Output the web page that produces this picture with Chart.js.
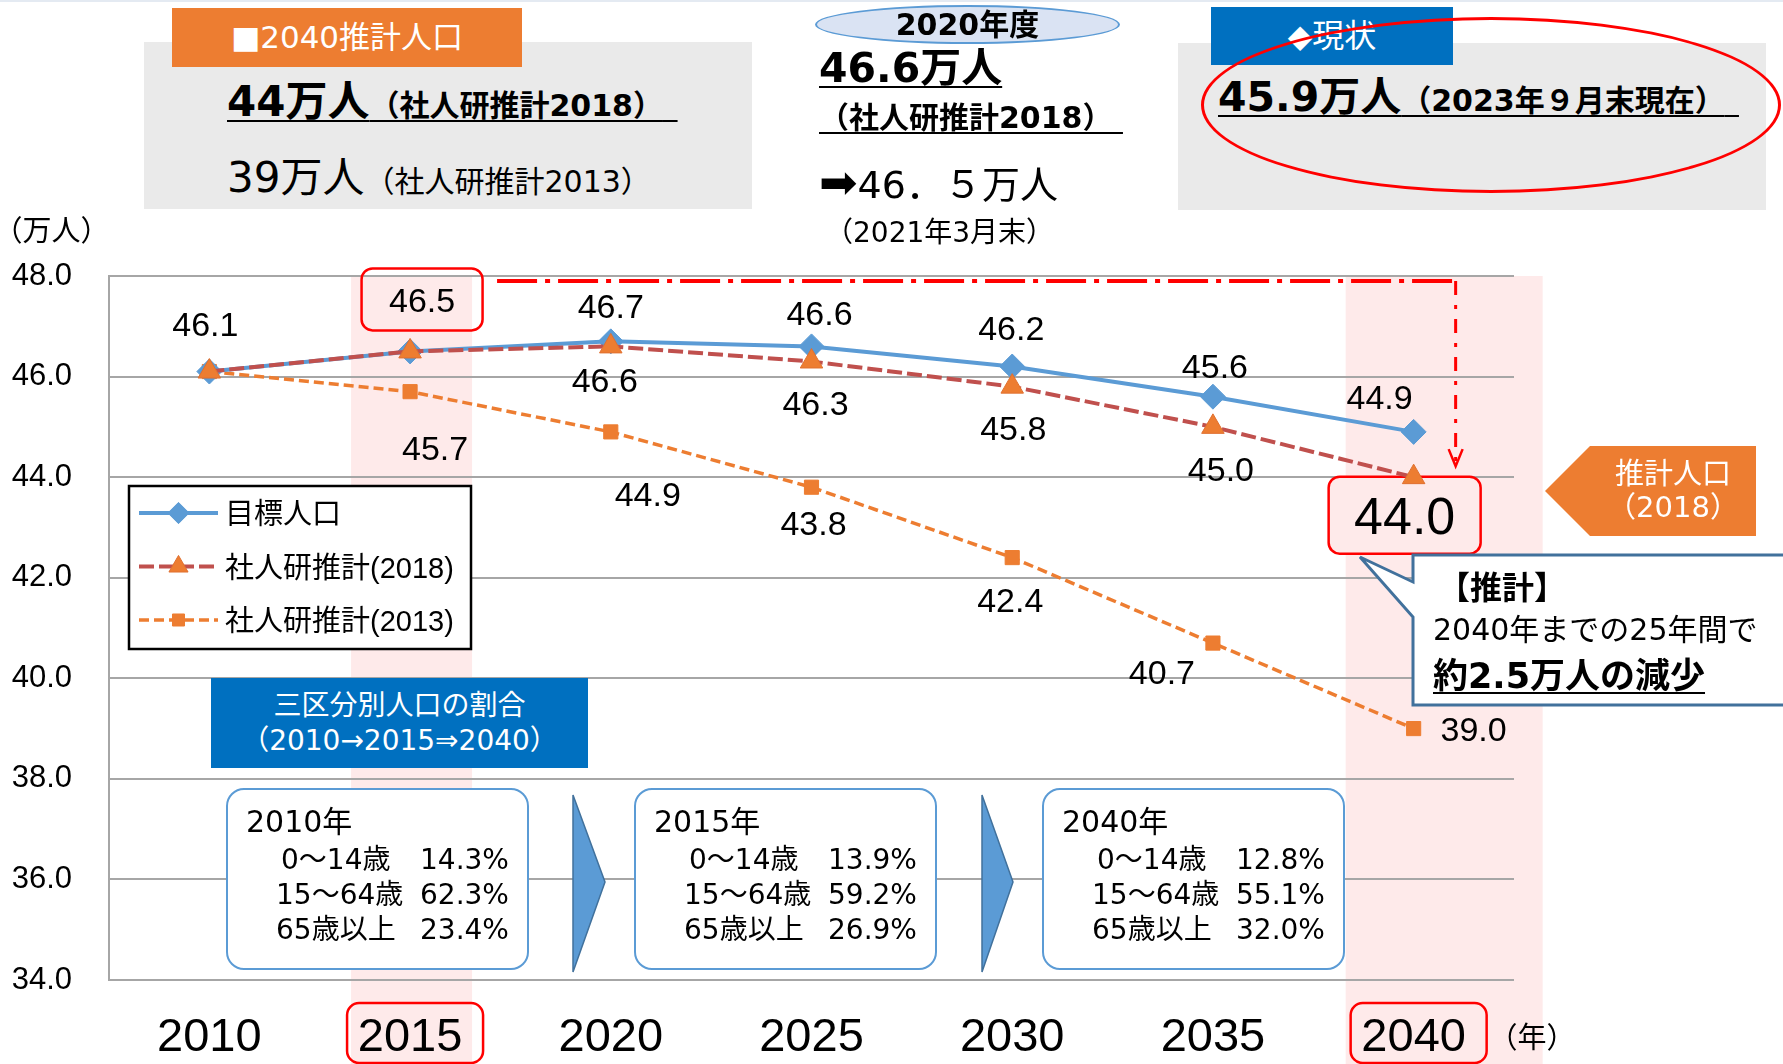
<!DOCTYPE html>
<html lang="ja">
<head>
<meta charset="utf-8">
<title>人口推計</title>
<script src="https://cdn.jsdelivr.net/npm/chart.js@4.4.1/dist/chart.umd.min.js"></script>
<style>
html, body { margin: 0; padding: 0; background: #fff; }
#wrap { position: relative; width: 1783px; height: 1064px; overflow: hidden;
  font-family: "DejaVu Sans", "Noto Sans CJK JP", sans-serif; color: #000; }
#chart { position: absolute; left: 0; top: 0; }
.abs { position: absolute; white-space: nowrap; line-height: 1; }
.b { font-weight: bold; }
.ul { text-decoration: underline; text-decoration-thickness: 2px; text-underline-offset: 4px; }
.gray { position: absolute; background: #eaeaea; }
.tag { position: absolute; display: flex; align-items: center; justify-content: center; box-sizing: border-box;
  padding-bottom: 7px; color: #fff; font-size: 31px; white-space: nowrap; }
.halt { font-feature-settings: "halt"; }
.agebox { position: absolute; top: 788px; width: 303px; height: 182px; box-sizing: border-box;
  border: 2.5px solid #5b9bd5; border-radius: 18px; background: #fff; }
.agebox .t { position: absolute; white-space: nowrap; line-height: 1; font-size: 28px; }
.agebox .t.h { font-size: 30px; }
svg { position: absolute; left: 0; top: 0; }
</style>
</head>
<body>
<div id="wrap">
  <canvas id="chart" width="1783" height="1064"></canvas>

  <div class="gray" style="left:0;top:0;width:1783px;height:2px;background:#e4eaf2"></div>

  <!-- 2040推計人口 -->
  <div class="gray" style="left:144px;top:42px;width:608px;height:167px"></div>
  <div class="tag" style="left:172px;top:8px;width:350px;height:59px;background:#ed7d31">■2040推計人口</div>
  <div class="abs b" style="left:227px;top:81px;font-size:42px"><span class="ul">44万人<span style="font-size:30px">（社人研推計2018）</span>&nbsp;</span></div>
  <div class="abs" style="left:227px;top:157px;font-size:42px">39万人<span style="font-size:30px">（社人研推計2013）</span></div>

  <!-- 2020年度 -->
  <div class="abs b" style="left:815px;top:5px;width:305px;height:39px;box-sizing:border-box;border:2px solid #5b9bd5;border-radius:50%;background:#dae3f3;display:flex;align-items:center;justify-content:center;font-size:30px">2020年度</div>
  <div class="abs b ul" style="left:819px;top:48px;font-size:41px">46.6万人</div>
  <div class="abs b ul" style="left:819px;top:103px;font-size:30px">（社人研推計2018）&nbsp;</div>
  <div class="abs" style="left:819px;top:166px;font-size:38px"><span style="font-size:46px;line-height:0">➡</span>46．５万人</div>
  <div class="abs" style="left:825px;top:219px;font-size:28px">（2021年3月末）</div>

  <!-- 現状 -->
  <div class="gray" style="left:1178px;top:43px;width:588px;height:167px"></div>
  <div class="tag" style="left:1211px;top:7px;width:242px;height:58px;background:#0070c0;font-size:32px">◆現状</div>
  <div class="abs b" style="left:1218px;top:77px;font-size:41px"><span class="ul">45.9万人<span style="font-size:30px">（2023年９月末現在）</span>&nbsp;</span></div>
  <div class="abs" style="left:1201px;top:17px;width:580px;height:176px;box-sizing:border-box;border:3px solid #ff0000;border-radius:50%"></div>

  <div class="abs halt" style="left:8px;top:217px;font-size:29px">（万人）</div>
  <div class="abs halt" style="left:1503px;top:1024px;font-size:29px">（年）</div>

  <!-- shapes -->
  <svg width="1783" height="1064">
    <polygon points="573,795 605,882 573,972" fill="#5b9bd5" stroke="#41719c" stroke-width="1.5"/>
    <polygon points="982,795 1013,882 982,972" fill="#5b9bd5" stroke="#41719c" stroke-width="1.5"/>
    <polygon points="1545,491 1590,446 1756,446 1756,536 1590,536" fill="#ed7d31"/>
    <path d="M1413,555 H1795 V705 H1413 V617 L1360,557 L1413,582 Z" fill="#fff" stroke="#41719c" stroke-width="3"/>
  </svg>

  <div class="abs" style="left:1590px;top:446px;width:166px;height:90px;display:flex;flex-direction:column;align-items:center;justify-content:center;color:#fff;font-size:29px;line-height:33px">
    <div>推計人口</div><div>（2018）</div>
  </div>

  <div class="abs b" style="left:1438px;top:572px;font-size:32px">【推計】</div>
  <div class="abs" style="left:1433px;top:615px;font-size:30px">2040年までの25年間で</div>
  <div class="abs b ul" style="left:1433px;top:659px;font-size:35px">約2.5万人の減少</div>

  <div class="abs" style="left:211px;top:678px;width:377px;height:90px;background:#0070c0;color:#fff;font-size:28px;line-height:35px;display:flex;flex-direction:column;align-items:center;justify-content:center">
    <div>三区分別人口の割合</div><div>（2010→2015⇒2040）</div>
  </div>
</div>

<script>
// --- data ---
const years = ['2010', '2015', '2020', '2025', '2030', '2035', '2040'];
const targetPop = [46.1, 46.5, 46.7, 46.6, 46.2, 45.6, 44.9];
const ipss2018 = [46.1, 46.5, 46.6, 46.3, 45.8, 45.0, 44.0];
const ipss2013 = [46.1, 45.7, 44.9, 43.8, 42.4, 40.7, 39.0];
const yTicks = [34, 36, 38, 40, 42, 44, 46, 48];
const seriesNames = ['目標人口', '社人研推計(2018)', '社人研推計(2013)'];

// age structure shown in the three boxes
const shareYears = ['2010年', '2015年', '2040年'];
const ageGroups = ['0～14歳', '15～64歳', '65歳以上'];
const ageShares = [[14.3, 62.3, 23.4], [13.9, 59.2, 26.9], [12.8, 55.1, 32.0]];

const latin = '"Liberation Sans", Arial, sans-serif';
const mixed = '"Liberation Sans", "Noto Sans CJK JP", sans-serif';

// age boxes
const wrap = document.getElementById('wrap');
const boxLefts = [226, 634, 1042];
shareYears.forEach((yr, k) => {
    const box = document.createElement('div');
    box.className = 'agebox';
    box.style.left = boxLefts[k] + 'px';
    let html = '<div class="t h" style="left:18px;top:17px">' + yr + '</div>';
    ageGroups.forEach((g, r) => {
        const top = 56 + 35 * r;
        html += '<div class="t" style="left:' + (r === 0 ? 53 : 48) + 'px;top:' + top + 'px">' + g + '</div>';
        html += '<div class="t" style="left:192px;top:' + top + 'px">' + ageShares[k][r].toFixed(1) + '%</div>';
    });
    box.innerHTML = html;
    wrap.appendChild(box);
});

// pink highlight bands behind 2015 and 2040
const bandPlugin = {
    id: 'bands',
    beforeDraw(chart, args, o) {
        const {ctx, chartArea, scales: {x}} = chart;
        ctx.save();
        ctx.fillStyle = o.color;
        o.spans.forEach(([cat, l, r]) => {
            const px = x.getPixelForValue(years.indexOf(cat));
            ctx.fillRect(px + l, chartArea.top, r - l, chart.height - chartArea.top);
        });
        ctx.restore();
    }
};

// value labels next to points, plus red boxes around highlighted ones
const labelPlugin = {
    id: 'pointLabels',
    beforeDatasetsDraw(chart, args, o) {
        const ctx = chart.ctx;
        ctx.save();
        o.boxes.forEach(([di, i, w, h, fill]) => {
            const pt = chart.getDatasetMeta(di).data[i];
            const off = o.offsets[di][i];
            const cx = pt.x + off[0], cy = pt.y + off[1];
            ctx.beginPath();
            ctx.roundRect(cx - w / 2, cy - h / 2, w, h, 11);
            if (fill) { ctx.fillStyle = fill; ctx.fill(); }
            ctx.strokeStyle = '#ff0000';
            ctx.lineWidth = 2.5;
            ctx.stroke();
        });
        ctx.restore();
    },
    afterDatasetsDraw(chart, args, o) {
        const ctx = chart.ctx;
        ctx.save();
        ctx.fillStyle = '#000';
        ctx.textAlign = 'center';
        ctx.textBaseline = 'alphabetic';
        chart.data.datasets.forEach((ds, di) => {
            const meta = chart.getDatasetMeta(di);
            ds.data.forEach((v, i) => {
                const off = o.offsets[di][i];
                if (!off) return;
                const pt = meta.data[i];
                const big = o.big[0] === di && o.big[1] === i;
                const size = big ? o.bigSize : o.size;
                ctx.font = size + 'px ' + latin;
                ctx.fillText(v.toFixed(1), pt.x + off[0], pt.y + off[1] + size * 0.36);
            });
        });
        ctx.restore();
    }
};

// red dash-dot line from 2015 level down to the 2040 projection
const dropPlugin = {
    id: 'dropArrow',
    afterDraw(chart, args, o) {
        const {ctx, chartArea, scales: {x, y}} = chart;
        const sx = x.getPixelForValue(1) + 12 + 60 + 15;
        const ex = x.getPixelForValue(6) + 42;
        const ty = chartArea.top + 5;
        const tipY = y.getPixelForValue(ipss2018[6]) - 11;
        ctx.save();
        ctx.strokeStyle = '#ff0000';
        ctx.setLineDash([40, 8, 5, 8]);
        ctx.lineWidth = 4;
        ctx.beginPath(); ctx.moveTo(sx, ty); ctx.lineTo(ex, ty); ctx.stroke();
        ctx.lineWidth = 3;
        ctx.setLineDash([14, 10, 4, 10]);
        ctx.beginPath(); ctx.moveTo(ex, ty); ctx.lineTo(ex, tipY - 2); ctx.stroke();
        ctx.setLineDash([]);
        ctx.lineWidth = 2.5;
        ctx.beginPath();
        ctx.moveTo(ex - 7, tipY - 17); ctx.lineTo(ex, tipY); ctx.lineTo(ex + 7, tipY - 17);
        ctx.stroke();

        // boxes round the 2015 and 2040 axis labels
        ctx.lineWidth = 2.5;
        o.tickBoxes.forEach(cat => {
            const px = x.getPixelForValue(years.indexOf(cat));
            ctx.beginPath();
            ctx.roundRect(px - 63, chartArea.bottom + 23, 136, 60, 12);
            ctx.stroke();
        });
        ctx.restore();
    }
};

// legend box inside the plot
const legendPlugin = {
    id: 'boxLegend',
    afterDraw(chart, args, o) {
        const ctx = chart.ctx;
        ctx.save();
        ctx.fillStyle = '#fff';
        ctx.fillRect(o.left, o.top, o.width, o.height);
        ctx.lineWidth = 2.5;
        ctx.strokeStyle = '#000';
        ctx.strokeRect(o.left, o.top, o.width, o.height);
        [0, 1, 2].forEach((di, row) => {
            const ds = chart.data.datasets[di];
            const yy = o.top + 27 + row * 53.5;
            const x0 = o.left + 10, x1 = o.left + 89;
            ctx.strokeStyle = ds.borderColor;
            ctx.lineWidth = ds.borderWidth;
            ctx.setLineDash(ds.borderDash || []);
            ctx.beginPath(); ctx.moveTo(x0, yy); ctx.lineTo(x1, yy); ctx.stroke();
            ctx.setLineDash([]);
            ctx.fillStyle = ds.pointBackgroundColor;
            ctx.strokeStyle = ds.pointBorderColor;
            ctx.lineWidth = 1;
            Chart.helpers.drawPoint(ctx, {pointStyle: ds.pointStyle, radius: ds.pointRadius * 0.85, rotation: 0, borderWidth: 1}, (x0 + x1) / 2, yy);
            ctx.fillStyle = '#000';
            ctx.font = '29px ' + mixed;
            ctx.textBaseline = 'alphabetic';
            ctx.fillText(ds.label, o.left + 96, yy + 11);
        });
        ctx.restore();
    }
};

new Chart(document.getElementById('chart'), {
    type: 'line',
    data: {
        labels: years,
        datasets: [{
            label: seriesNames[0],
            data: targetPop,
            borderColor: '#5b9bd5',
            backgroundColor: '#5b9bd5',
            borderWidth: 4,
            pointStyle: 'rectRot',
            pointRadius: 12.5,
            pointBackgroundColor: '#5b9bd5',
            pointBorderColor: '#5b9bd5',
            pointBorderWidth: 1,
            order: 1
        }, {
            label: seriesNames[1],
            data: ipss2018,
            borderColor: '#c0504d',
            backgroundColor: '#ed7d31',
            borderWidth: 4,
            borderDash: [15, 5],
            pointStyle: 'triangle',
            pointRadius: 13,
            pointBackgroundColor: '#ed7d31',
            pointBorderColor: '#e07030',
            pointBorderWidth: 1,
            order: 0
        }, {
            label: seriesNames[2],
            data: ipss2013,
            borderColor: '#ed7d31',
            backgroundColor: '#ed7d31',
            borderWidth: 3.5,
            borderDash: [10, 5],
            pointStyle: 'rect',
            pointRadius: 10,
            pointBackgroundColor: '#ed7d31',
            pointBorderColor: '#ed7d31',
            pointBorderWidth: 1,
            order: 2
        }]
    },
    options: {
        responsive: false,
        animation: false,
        devicePixelRatio: 1,
        layout: {padding: {top: 276, right: 269, left: 0, bottom: 0}},
        plugins: {
            legend: {display: false},
            tooltip: {enabled: false},
            bands: {color: '#feeaea', spans: [['2015', -59, 62], ['2040', -68, 129]]},
            pointLabels: {
                size: 34,
                bigSize: 52,
                big: [1, 6],
                offsets: [
                    [[-4, -48], [12, -52], [0, -36], [8, -34], [-1, -39], [2, -31], [-34, -35]],
                    [null, null, [-6, 33], [4, 41], [1, 41], [8, 42], [-9, 38]],
                    [null, [25, 56], [37, 62], [2, 36], [-2, 42], [-51, 29], [60, 0]]
                ],
                boxes: [[0, 1, 121, 62, null], [1, 6, 152, 77, '#feeaea']]
            },
            dropArrow: {tickBoxes: ['2015', '2040']},
            boxLegend: {left: 129, top: 486, width: 342, height: 163}
        },
        scales: {
            x: {
                offset: true,
                grid: {display: false, drawTicks: false, offset: true},
                border: {display: false},
                ticks: {color: '#000', font: {family: latin, size: 47}, padding: 30, maxRotation: 0, autoSkip: false},
                afterFit(s) { s.height = 84; }
            },
            y: {
                min: yTicks[0],
                max: yTicks[yTicks.length - 1],
                grid: {color: '#a6a6a6', lineWidth: 2, drawTicks: false},
                border: {color: '#a6a6a6', width: 2},
                ticks: {
                    stepSize: yTicks[1] - yTicks[0],
                    color: '#000',
                    font: {family: latin, size: 31},
                    padding: 37,
                    callback: v => v.toFixed(1)
                },
                afterFit(s) { s.width = 109; }
            }
        }
    },
    plugins: [bandPlugin, labelPlugin, dropPlugin, legendPlugin]
});
</script>
</body>
</html>
